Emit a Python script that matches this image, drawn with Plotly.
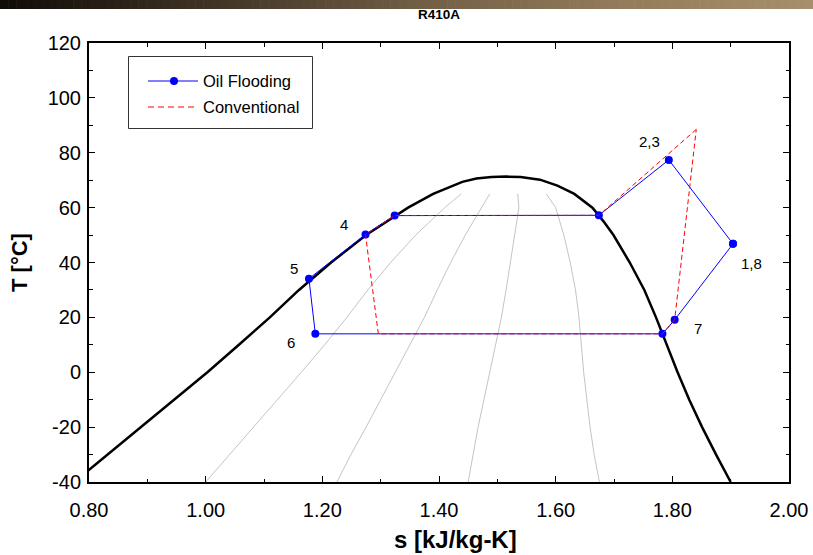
import plotly.graph_objects as go

# ---------------- data ----------------
# saturation dome: liquid side (ascending T), critical point, vapour side (descending T)
liq_T = [-40, -30, -20, -10, 0, 10, 20, 30, 40, 50, 60, 65, 68, 69.4, 70.6, 71.15]
liq_s = [0.775, 0.832, 0.891, 0.948, 1.003, 1.057, 1.110, 1.160, 1.215, 1.275, 1.347, 1.390, 1.422, 1.440, 1.464, 1.490]
crit_T = [71.3]
crit_s = [1.515]
vap_T = [71.15, 70.2, 68, 65, 60, 55, 50, 40, 30, 20, 14, 10, 0, -10, -20, -30, -40]
vap_s = [1.540, 1.573, 1.603, 1.632, 1.663, 1.682, 1.699, 1.727, 1.752, 1.772, 1.783, 1.791, 1.809, 1.829, 1.851, 1.875, 1.900]

# constant-quality lines (x = 0.2, 0.4, 0.6, 0.8)
q_T = [-40, -30, -20, -10, 0, 10, 20, 30, 40, 50, 60, 65]
q02_s = [1.000, 1.041, 1.083, 1.124, 1.164, 1.204, 1.242, 1.278, 1.317, 1.360, 1.410, 1.438]
q04_s = [1.225, 1.249, 1.275, 1.300, 1.325, 1.351, 1.375, 1.397, 1.420, 1.445, 1.473, 1.487]
q06_s = [1.450, 1.458, 1.467, 1.477, 1.487, 1.497, 1.507, 1.515, 1.522, 1.529, 1.537, 1.535]
q08_s = [1.675, 1.666, 1.659, 1.653, 1.648, 1.644, 1.640, 1.634, 1.625, 1.614, 1.600, 1.584]

# oil flooding cycle (closed loop)
oil_s = [1.904, 1.794, 1.674, 1.324, 1.274, 1.177, 1.188, 1.783, 1.804, 1.904]
oil_T = [46.8, 77.4, 57.2, 57.1, 50.2, 34.1, 14.0, 14.0, 19.1, 46.8]

# conventional cycle
conv_s = [1.841, 1.674, 1.324, 1.274, 1.296, 1.783, 1.804, 1.841]
conv_T = [88.5, 57.2, 57.1, 50.2, 14.0, 14.0, 19.1, 88.5]

# state-point labels
lab_text = ["2,3", "1,8", "7", "4", "5", "6"]
lab_s = [1.760, 1.936, 1.844, 1.237, 1.152, 1.147]
lab_T = [84.2, 39.6, 15.8, 53.8, 37.8, 10.9]

x_ticks = [0.8, 1.0, 1.2, 1.4, 1.6, 1.8, 2.0]
x_ticktext = ["0.80", "1.00", "1.20", "1.40", "1.60", "1.80", "2.00"]
y_ticks = [-40, -20, 0, 20, 40, 60, 80, 100, 120]
y_ticktext = ["-40", "-20", "0", "20", "40", "60", "80", "100", "120"]

legend_names = ["Oil Flooding", "Conventional"]

# ---------------- figure ----------------
W, H = 813, 555
ML, MR, MT, MB = 89, 24, 43, 73
PW, PH = W - ML - MR, H - MT - MB
FONT = "Liberation Sans, Arial, sans-serif"

def fx(px):
    return (px - ML) / PW

def fy(py):
    return 1 - (py - MT) / PH

fig = go.Figure()

for qs in (q02_s, q04_s, q06_s, q08_s):
    fig.add_trace(go.Scatter(x=qs, y=q_T, mode="lines", line=dict(color="#c4c4c4", width=1),
                             showlegend=False, hoverinfo="skip"))

fig.add_trace(go.Scatter(x=liq_s + crit_s + vap_s, y=liq_T + crit_T + vap_T, mode="lines",
                         line=dict(color="black", width=2.5), showlegend=False))

fig.add_trace(go.Scatter(x=oil_s, y=oil_T, mode="lines+markers", name=legend_names[0],
                         line=dict(color="#0000ff", width=1),
                         marker=dict(color="#0000ff", size=8), showlegend=False))
fig.add_trace(go.Scatter(x=conv_s, y=conv_T, mode="lines", name=legend_names[1],
                         line=dict(color="#ff0000", width=1, dash="5px,3px"), showlegend=False))

for t, s, T in zip(lab_text, lab_s, lab_T):
    fig.add_annotation(x=s, y=T, text=t, showarrow=False, xref="x", yref="y",
                       font=dict(family=FONT, size=15, color="black"))

shapes = []
# header gradient strip
stops = [(0.0, (15, 11, 7)), (0.25, (62, 50, 36)), (0.5, (110, 92, 68)),
         (0.75, (146, 122, 90)), (1.0, (168, 143, 107))]

def grad(f):
    for (a, ca), (b, cb) in zip(stops[:-1], stops[1:]):
        if a <= f <= b:
            t = (f - a) / (b - a)
            return "rgb(%d,%d,%d)" % tuple(round(ca[i] + (cb[i] - ca[i]) * t) for i in range(3))
    return "rgb(168,143,107)"

N = 100
for i in range(N):
    px0 = W * i / N
    px1 = W * (i + 1) / N + 0.6
    shapes.append(dict(type="rect", xref="paper", yref="paper",
                       x0=fx(px0), x1=fx(px1), y0=fy(9), y1=fy(-1),
                       fillcolor=grad((i + 0.5) / N), line=dict(width=0), layer="above"))

# legend (box, samples, labels)
shapes.append(dict(type="rect", xref="paper", yref="paper", x0=fx(128.5), x1=fx(312.5),
                   y0=fy(128.5), y1=fy(56.5), line=dict(color="#333333", width=1),
                   fillcolor="white", layer="above"))
shapes.append(dict(type="line", xref="paper", yref="paper", x0=fx(148), x1=fx(198),
                   y0=fy(81), y1=fy(81), line=dict(color="#0000ff", width=1), layer="above"))
shapes.append(dict(type="circle", xref="paper", yref="paper", x0=fx(170), x1=fx(178),
                   y0=fy(85), y1=fy(77), line=dict(color="#0000ff", width=0),
                   fillcolor="#0000ff", layer="above"))
shapes.append(dict(type="line", xref="paper", yref="paper", x0=fx(148), x1=fx(198),
                   y0=fy(107), y1=fy(107), line=dict(color="#ff0000", width=1, dash="6px,4px"),
                   layer="above"))
fig.update_layout(shapes=shapes)

for name, py in zip(legend_names, (81, 107)):
    fig.add_annotation(x=fx(201), y=fy(py), xref="paper", yref="paper", text=name,
                       showarrow=False, xanchor="left", yanchor="middle",
                       font=dict(family=FONT, size=16.5, color="black"))

# x-axis title
fig.add_annotation(x=fx(455), y=fy(539), xref="paper", yref="paper",
                   text="<b>s [kJ/kg-K]</b>", showarrow=False,
                   xanchor="center", yanchor="middle",
                   font=dict(family=FONT, size=24, color="black"))

fig.update_layout(
    width=W, height=H,
    margin=dict(l=ML, r=MR, t=MT, b=MB),
    paper_bgcolor="white", plot_bgcolor="white",
    font=dict(family=FONT, color="black"),
    showlegend=False,
    title=dict(text="<b>R410A</b>", x=(PW / 2 + ML) / W, xanchor="center",
               y=1 - 14 / H, yanchor="middle",
               font=dict(size=13.5, family=FONT, color="black")),
    xaxis=dict(range=[0.8, 2.0], tickvals=x_ticks, ticktext=x_ticktext, automargin=False,
               ticks="inside", ticklen=6, tickwidth=1, tickcolor="black",
               minor=dict(dtick=0.1, ticks="inside", ticklen=3.5, tickcolor="black"),
               showline=True, linecolor="black", linewidth=2, mirror="allticks",
               showgrid=False, zeroline=False,
               tickfont=dict(size=20), ticklabelstandoff=9),
    yaxis=dict(range=[-40, 120], tickvals=y_ticks, ticktext=y_ticktext, automargin=False,
               ticks="inside", ticklen=6, tickwidth=1, tickcolor="black",
               minor=dict(dtick=10, ticks="inside", ticklen=3.5, tickcolor="black"),
               showline=True, linecolor="black", linewidth=2, mirror="allticks",
               showgrid=False, zeroline=False,
               tickfont=dict(size=20), ticklabelstandoff=2,
               title=dict(text="<b>T [°C]</b>", font=dict(size=22), standoff=14)),
)

fig.write_html("out.html")
